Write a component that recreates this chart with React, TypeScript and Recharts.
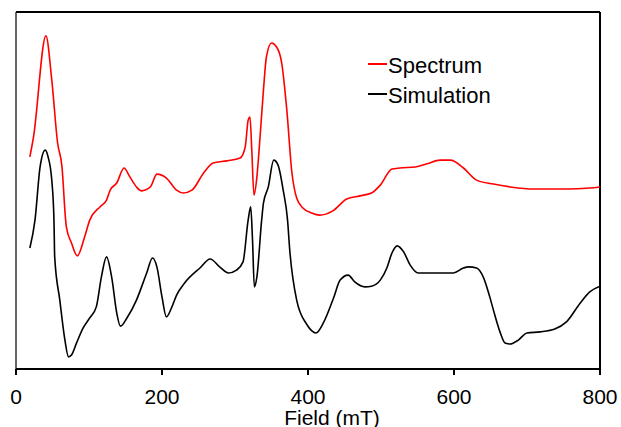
import React from "react"
import { LineChart, Line, XAxis, YAxis, ReferenceLine } from "recharts"

// field values (mT) and intensities (arbitrary units)
const spectrumField = [
  19, 24, 41, 49, 57, 63, 68, 69, 76, 84, 94, 101, 115, 124, 129, 138, 148, 156, 165, 172,
  184, 193, 206, 220, 229, 241, 257, 270, 289, 307, 314, 318, 320.5, 323, 326, 330, 333, 339,
  343, 350, 357, 364, 371, 378, 384.5, 393, 405, 416, 434, 453, 471, 487, 499, 515, 526, 547,
  562, 581, 595, 613, 631, 654, 677, 709, 754, 786, 800,
]
const spectrumSignal = [
  59.4, 65.0, 93.3, 81.0, 63.3, 56.6, 41.7, 39.8, 35.3, 31.7, 37.0, 41.7, 45.4, 47.3, 50.1,
  52.1, 56.3, 53.8, 51.0, 49.9, 51.0, 54.6, 53.5, 50.1, 49.3, 50.1, 54.9, 57.7, 58.3, 59.1,
  62.2, 69.7, 70.6, 61.3, 48.7, 53.8, 61.3, 78.2, 87.4, 91.3, 90.2, 85.7, 72.5, 54.9, 47.9,
  45.1, 43.7, 43.1, 44.3, 47.6, 48.5, 49.3, 51.5, 56.0, 56.3, 56.6, 57.4, 58.5, 58.5, 56.3,
  52.9, 51.8, 51.0, 50.4, 50.4, 50.7, 51.0,
]

const simulationField = [
  19, 26, 33, 40, 44, 49, 52, 53, 60, 67, 72, 76, 83, 92, 101, 110, 117, 124, 131, 138, 143,
  152, 165, 179, 187, 193, 200, 206, 213, 220, 231, 252, 266, 279, 291, 302, 311, 318, 321.5,
  324, 326.5, 330, 336.5, 339, 345.6, 353, 359, 366, 372, 375, 384.5, 398, 411, 421, 435, 444,
  455, 464, 478, 487, 499, 508, 515, 522, 531, 540, 551, 599, 613, 620, 631, 640, 649, 654,
  663, 670, 677, 688, 700, 718, 738, 754, 773, 786, 800,
]
const simulationSignal = [
  33.9, 41.7, 56.6, 61.3, 59.4, 52.9, 41.7, 31.4, 19.3, 8.1, 3.4, 3.9, 7.3, 11.5, 14.3, 17.4,
  25.8, 31.4, 25.8, 15.7, 12.0, 14.3, 19.3, 26.9, 31.1, 28.6, 20.2, 14.6, 17.1, 20.7, 24.1,
  28.3, 30.8, 28.6, 26.9, 27.7, 30.0, 41.7, 45.4, 36.1, 23.0, 25.8, 41.7, 46.5, 51.0, 58.5,
  57.1, 50.1, 41.7, 33.3, 19.3, 12.6, 10.1, 12.9, 19.9, 24.9, 26.3, 24.4, 23.0, 23.2, 24.9,
  28.3, 32.5, 34.5, 32.8, 29.1, 26.9, 26.9, 28.3, 28.6, 28.3, 25.8, 20.2, 16.5, 10.4, 7.3,
  7.0, 8.1, 10.1, 10.4, 11.2, 13.2, 18.5, 21.6, 23.2,
]

const fieldTicks = [0, 200, 400, 600, 800]
const seriesNames = ["Spectrum", "Simulation"]
const seriesColors = ["#ff0000", "#000000"]

const spectrumData = spectrumField.map((x, i) => ({ field: x, value: spectrumSignal[i] }))
const simulationData = simulationField.map((x, i) => ({ field: x, value: simulationSignal[i] }))

const font = "'Liberation Sans', Arial, Helvetica, sans-serif"

export default function App() {
  return (
    <div style={{ position: "absolute", left: 0, top: 0, width: 621, height: 427, background: "#fff" }}>
      <LineChart width={621} height={427} margin={{ top: 12, right: 21, left: 16, bottom: 0 }}>
        <XAxis
          dataKey="field"
          type="number"
          domain={[0, 800]}
          ticks={fieldTicks}
          allowDataOverflow
          height={58}
          stroke="#000"
          axisLine={{ stroke: "#000", strokeWidth: 2 }}
          tickLine={{ stroke: "#000", strokeWidth: 2 }}
          tickSize={6}
          tickMargin={14}
          tick={{ fill: "#000", fontSize: 21, fontFamily: font }}
          label={{
            value: "Field (mT)",
            position: "insideBottom",
            offset: 2,
            dx: 24,
            fill: "#000",
            fontSize: 21,
            fontFamily: font,
          }}
        />
        <YAxis type="number" domain={[0, 100]} width={0} hide />
        {/* plot frame */}
        <ReferenceLine x={0} stroke="#666" strokeWidth={2} />
        <ReferenceLine y={100} stroke="#000" strokeWidth={2} />
        <ReferenceLine x={800} stroke="#000" strokeWidth={2} />
        <Line
          data={spectrumData}
          dataKey="value"
          name={seriesNames[0]}
          type="monotone"
          stroke={seriesColors[0]}
          strokeWidth={1.6}
          dot={false}
          isAnimationActive={false}
        />
        <Line
          data={simulationData}
          dataKey="value"
          name={seriesNames[1]}
          type="monotone"
          stroke={seriesColors[1]}
          strokeWidth={1.6}
          dot={false}
          isAnimationActive={false}
        />
      </LineChart>
      <div
        style={{
          position: "absolute",
          left: 368,
          top: 51,
          fontFamily: font,
          fontSize: 22,
          color: "#000",
        }}
      >
        {seriesNames.map((name, i) => (
          <div key={name} style={{ display: "flex", alignItems: "center", height: 30 }}>
            <span
              style={{
                display: "inline-block",
                width: 19,
                height: 2,
                background: seriesColors[i],
                marginRight: 1,
                marginTop: -5,
              }}
            />
            <span>{name}</span>
          </div>
        ))}
      </div>
    </div>
  )
}
